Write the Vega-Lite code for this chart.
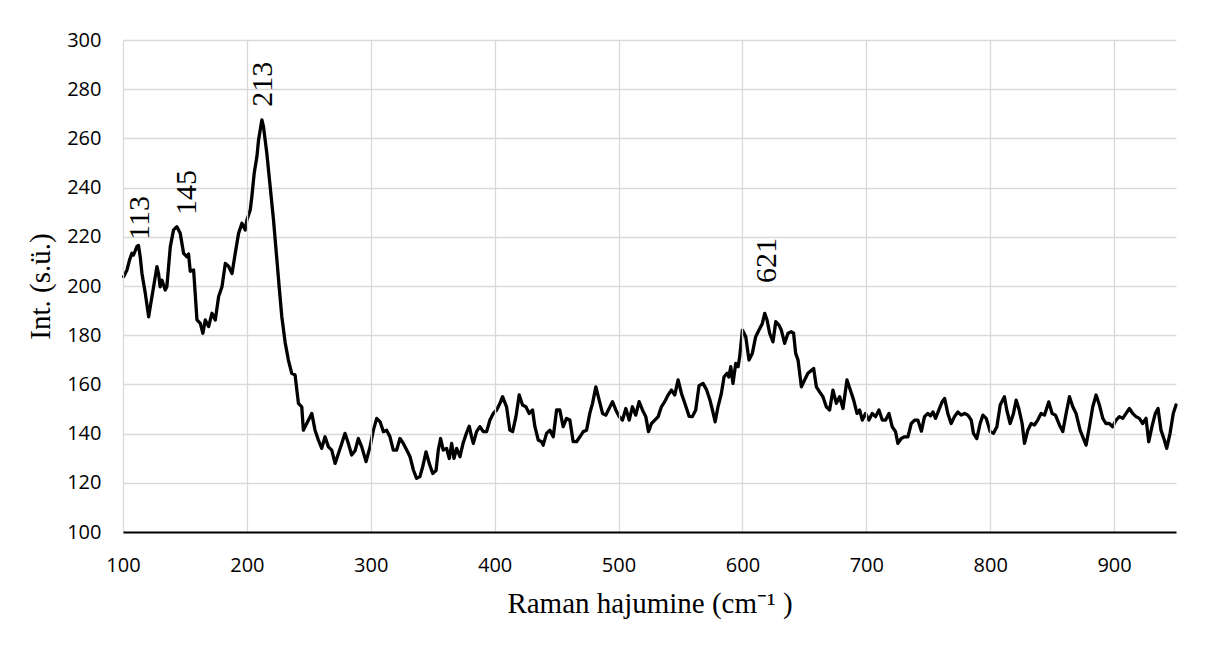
{
  "$schema": "https://vega.github.io/schema/vega-lite/v6.json",
  "width": 1053,
  "height": 492,
  "autosize": {"type": "none"},
  "padding": {"left": 123, "top": 40, "right": 36, "bottom": 114},
  "background": "white",
  "config": {
    "view": {"stroke": null},
    "axis": {
      "grid": true,
      "gridColor": "#d9d9d9",
      "gridWidth": 1.3,
      "ticks": false,
      "labelFlush": false,
      "labelOverlap": false,
      "labelFont": "Open Sans",
      "labelFontSize": 20,
      "labelColor": "#000000",
      "titleFont": "Liberation Serif",
      "titleFontSize": 29,
      "titleFontWeight": "normal",
      "titleColor": "#000000"
    }
  },
  "datasets": {
    "spectrum": [
      {"x":100.5,"y":203.8},{"x":103.2,"y":206.5},{"x":105.3,"y":210.6},{"x":107.2,"y":213.3},{"x":108.5,"y":212.6},
      {"x":111.2,"y":216},{"x":112.5,"y":216.5},{"x":113.9,"y":211.9},{"x":115.3,"y":205.1},{"x":118,"y":197},
      {"x":120.7,"y":187.5},{"x":122,"y":191.6},{"x":124.7,"y":199.7},{"x":127.4,"y":207.9},{"x":128.7,"y":205},
      {"x":130,"y":199.7},{"x":131.4,"y":202.4},{"x":134.1,"y":198.4},{"x":135.4,"y":199.7},{"x":136.8,"y":207.9},
      {"x":138.2,"y":216},{"x":140.8,"y":222.8},{"x":143.5,"y":224.1},{"x":146.2,"y":221.4},{"x":148.9,"y":213.3},
      {"x":151.6,"y":211.9},{"x":152.9,"y":213},{"x":154.3,"y":206},{"x":157,"y":206.5},{"x":159.7,"y":186.2},
      {"x":162.4,"y":184.8},{"x":164.5,"y":180.8},{"x":166.4,"y":186.2},{"x":169.1,"y":183.5},{"x":171.8,"y":188.9},
      {"x":174.5,"y":186.2},{"x":177.2,"y":195.7},{"x":179.9,"y":199.7},{"x":182.6,"y":209.2},{"x":185.3,"y":207.9},
      {"x":188,"y":205.1},{"x":190.6,"y":213.3},{"x":193.3,"y":221.4},{"x":196,"y":225.5},{"x":198.7,"y":222.8},
      {"x":200,"y":226.8},{"x":202.7,"y":230.9},{"x":204,"y":236.3},{"x":205.9,"y":245.8},{"x":208.1,"y":252.6},
      {"x":209.4,"y":259.3},{"x":212.1,"y":267.5},{"x":213.4,"y":264.8},{"x":216.1,"y":253.9},{"x":218.8,"y":240.4},
      {"x":221.5,"y":226.8},{"x":224,"y":212},{"x":226,"y":200},{"x":228.2,"y":187.5},{"x":230.9,"y":177},
      {"x":233.5,"y":169.9},{"x":236.2,"y":164.5},{"x":238.9,"y":163.8},{"x":241.6,"y":152.3},{"x":244.3,"y":150.9},
      {"x":245.6,"y":141.4},{"x":248.3,"y":144.1},{"x":252.4,"y":148.2},{"x":255,"y":141.4},{"x":257.7,"y":137.4},
      {"x":260.4,"y":134},{"x":263.1,"y":138.7},{"x":265.8,"y":134.6},{"x":268.5,"y":133.3},{"x":271.2,"y":127.9},
      {"x":273.9,"y":131.9},{"x":276.6,"y":136},{"x":279.2,"y":140.1},{"x":281.9,"y":136},{"x":284.6,"y":131.3},
      {"x":287.3,"y":133},{"x":290,"y":138},{"x":292.7,"y":134.6},{"x":296.2,"y":128.6},{"x":299.4,"y":134.6},
      {"x":302.1,"y":141.4},{"x":304.8,"y":146.2},{"x":307.5,"y":144.8},{"x":310.2,"y":140.8},{"x":312.8,"y":141.4},
      {"x":315.5,"y":138.7},{"x":318.2,"y":133.3},{"x":320.9,"y":133.3},{"x":323.6,"y":138},{"x":326.3,"y":136},
      {"x":329,"y":133.3},{"x":331.7,"y":130.6},{"x":334.4,"y":125.2},{"x":337,"y":121.8},{"x":339.7,"y":122.5},
      {"x":341.9,"y":126.5},{"x":344.6,"y":132.6},{"x":347.2,"y":127.9},{"x":350,"y":123.8},{"x":352.7,"y":125},
      {"x":354.5,"y":133.3},{"x":356.4,"y":138},{"x":358.5,"y":133.3},{"x":361.2,"y":134},{"x":363.4,"y":129.9},
      {"x":365.3,"y":136},{"x":367.2,"y":129.9},{"x":369.3,"y":134},{"x":372,"y":130.6},{"x":374.7,"y":136.4},
      {"x":377.4,"y":140.4},{"x":379.5,"y":143},{"x":381.4,"y":138.7},{"x":382.8,"y":136},{"x":385.4,"y":140.8},
      {"x":388.1,"y":142.8},{"x":390.8,"y":140.8},{"x":393.5,"y":140.8},{"x":396.2,"y":145.5},{"x":398.9,"y":148.2},
      {"x":401.6,"y":149.6},{"x":404.3,"y":152.3},{"x":406.4,"y":155},{"x":409.6,"y":150.9},{"x":412.3,"y":141.4},
      {"x":414.5,"y":140.8},{"x":417.2,"y":146.9},{"x":419.8,"y":155.7},{"x":422.5,"y":151.6},{"x":425.2,"y":150.9},
      {"x":427.9,"y":148.2},{"x":430.6,"y":149.6},{"x":432.5,"y":142.8},{"x":435.2,"y":137.4},{"x":437.9,"y":136.7},
      {"x":439.2,"y":135.3},{"x":441.9,"y":140.1},{"x":444.6,"y":141.4},{"x":447.3,"y":138.7},{"x":450,"y":149.6},
      {"x":452.6,"y":149.6},{"x":455.3,"y":142.8},{"x":458,"y":146.2},{"x":460.7,"y":145.5},{"x":463.4,"y":136.7},
      {"x":466.1,"y":136.7},{"x":468.8,"y":138.7},{"x":471.5,"y":140.8},{"x":474.2,"y":141.4},{"x":476.8,"y":148.2},
      {"x":479,"y":152.3},{"x":481.7,"y":159},{"x":484.4,"y":153.6},{"x":487.1,"y":148.2},{"x":489.7,"y":147.5},
      {"x":492.4,"y":150.2},{"x":495.1,"y":153},{"x":497.8,"y":149.6},{"x":500.5,"y":146.9},{"x":503.2,"y":145.5},
      {"x":505.9,"y":150.2},{"x":508.6,"y":145.5},{"x":511.2,"y":150.9},{"x":513.9,"y":147.5},{"x":516.6,"y":153},
      {"x":519.3,"y":149.6},{"x":522,"y":146.9},{"x":524.2,"y":140.8},{"x":526.6,"y":144.1},{"x":529.3,"y":145.5},
      {"x":532,"y":146.9},{"x":534.6,"y":150.9},{"x":537.3,"y":153},{"x":540,"y":155.7},{"x":542.7,"y":157.7},
      {"x":545.4,"y":155.7},{"x":548.1,"y":161.8},{"x":550.8,"y":156.3},{"x":553.5,"y":152.3},{"x":557,"y":147},
      {"x":559.6,"y":146.9},{"x":562.3,"y":149.6},{"x":565,"y":159.5},{"x":568.2,"y":160.4},{"x":570.9,"y":158},
      {"x":573.6,"y":154},{"x":575.8,"y":149.6},{"x":578,"y":144.8},{"x":580.3,"y":150.9},{"x":583,"y":156.3},
      {"x":585.2,"y":163.1},{"x":587.6,"y":164.5},{"x":589,"y":163},{"x":590.6,"y":167.2},{"x":592.4,"y":160.4},
      {"x":594.6,"y":168.5},{"x":596.5,"y":167.2},{"x":597.8,"y":171.2},{"x":600,"y":182.1},{"x":602.7,"y":179.4},
      {"x":605.3,"y":169.9},{"x":608,"y":172.6},{"x":610.7,"y":179.4},{"x":613.4,"y":182.1},{"x":616.1,"y":184.8},
      {"x":618,"y":188.9},{"x":619.9,"y":186.2},{"x":622,"y":180.8},{"x":624.7,"y":177.3},{"x":626.9,"y":185.5},
      {"x":629.5,"y":184.1},{"x":631.4,"y":182.1},{"x":634.1,"y":176.7},{"x":636.8,"y":180.8},{"x":639.5,"y":181.4},
      {"x":641.3,"y":180.8},{"x":643,"y":172.6},{"x":644.9,"y":169.9},{"x":647.6,"y":159},{"x":650.2,"y":161.8},
      {"x":652.9,"y":164.5},{"x":657.5,"y":166.5},{"x":659.7,"y":159},{"x":662.3,"y":157},{"x":665,"y":155},
      {"x":667.7,"y":150.9},{"x":670.4,"y":149.6},{"x":673.1,"y":157.7},{"x":675.8,"y":152.3},{"x":678.5,"y":155},
      {"x":681.2,"y":150.2},{"x":684.4,"y":161.8},{"x":687.1,"y":157.7},{"x":689.8,"y":153.6},{"x":692.5,"y":148.2},
      {"x":694.6,"y":149.6},{"x":696.8,"y":145.5},{"x":699.4,"y":148.2},{"x":702.1,"y":145.5},{"x":704.8,"y":148.2},
      {"x":707.5,"y":146.9},{"x":710.2,"y":149.6},{"x":712.9,"y":145.5},{"x":715.6,"y":145.5},{"x":718.3,"y":148.2},
      {"x":720.9,"y":142.8},{"x":723.6,"y":140.8},{"x":725.5,"y":136},{"x":728.2,"y":138},{"x":730.9,"y":138.7},
      {"x":733.6,"y":138.7},{"x":736.3,"y":144.1},{"x":739,"y":145.5},{"x":741.6,"y":145.5},{"x":744.5,"y":141},
      {"x":747,"y":146.9},{"x":749.7,"y":148.2},{"x":751.8,"y":147.2},{"x":753.8,"y":148.8},{"x":755.9,"y":146.2},
      {"x":758.6,"y":149.6},{"x":761.3,"y":153},{"x":763.2,"y":154.3},{"x":765.8,"y":148.2},{"x":768.5,"y":144.1},
      {"x":771.2,"y":146.9},{"x":773.9,"y":148.8},{"x":776.6,"y":147.5},{"x":779.3,"y":148.2},{"x":782,"y":147.5},
      {"x":784.7,"y":145.5},{"x":786.5,"y":140.1},{"x":789.2,"y":138},{"x":791.9,"y":144.1},{"x":794.1,"y":147.5},
      {"x":796.8,"y":146.2},{"x":800,"y":140.8},{"x":802.7,"y":140.1},{"x":805.4,"y":142.8},{"x":808.1,"y":151.6},
      {"x":811.5,"y":155},{"x":813.4,"y":149.6},{"x":816.1,"y":144.1},{"x":818.8,"y":148.2},{"x":821,"y":153.6},
      {"x":823.1,"y":150.2},{"x":825.8,"y":144.1},{"x":827.7,"y":136},{"x":830.4,"y":141.4},{"x":833.1,"y":144.1},
      {"x":835.7,"y":143.5},{"x":838.4,"y":145.5},{"x":841.1,"y":148.2},{"x":843.8,"y":147.5},{"x":847.3,"y":152.9},
      {"x":850,"y":148.2},{"x":852.7,"y":147.5},{"x":855.9,"y":143.5},{"x":858.6,"y":140.8},{"x":861.3,"y":148.2},
      {"x":864,"y":155},{"x":866.7,"y":150.9},{"x":869.3,"y":148.2},{"x":872.6,"y":141.4},{"x":875.3,"y":138},
      {"x":877.4,"y":135.3},{"x":880.1,"y":142.8},{"x":882.8,"y":150.9},{"x":885.5,"y":155.7},{"x":888.2,"y":151.6},
      {"x":890.9,"y":146.2},{"x":893.5,"y":144.1},{"x":896.2,"y":144.1},{"x":898.9,"y":142.8},{"x":901.6,"y":145.5},
      {"x":904.3,"y":146.9},{"x":907,"y":146.2},{"x":909.7,"y":148.2},{"x":912.4,"y":150.2},{"x":915,"y":148.2},
      {"x":917.7,"y":146.9},{"x":920.4,"y":146.2},{"x":923.1,"y":144.1},{"x":925.8,"y":146.2},{"x":928,"y":136.7},
      {"x":930.6,"y":142.8},{"x":933.3,"y":148.2},{"x":935.5,"y":150.2},{"x":937.9,"y":141.4},{"x":940.6,"y":137.4},
      {"x":942.5,"y":134},{"x":945.2,"y":140.1},{"x":947.8,"y":148.2},{"x":950,"y":151.6}
    ],
    "peaks": [
      {"label":"113","x":114,"y":218.7},
      {"label":"145","x":152,"y":228.9},
      {"label":"213","x":213.4,"y":272.9},
      {"label":"621","x":619.6,"y":201.2}
    ]
  },
  "layer": [
    {
      "data": {"name": "spectrum"},
      "mark": {"type": "line", "color": "#000000", "strokeWidth": 3.3, "strokeJoin": "round", "strokeCap": "round"},
      "encoding": {
        "x": {
          "field": "x", "type": "quantitative",
          "scale": {"domain": [100, 950], "nice": false, "zero": false},
          "axis": {
            "values": [100, 200, 300, 400, 500, 600, 700, 800, 900],
            "title": "Raman hajumine (cm⁻¹ )",
            "domainColor": "#000000",
            "domainWidth": 2,
            "labelPadding": 23,
            "titlePadding": 14,
            "zindex": 1
          }
        },
        "y": {
          "field": "y", "type": "quantitative",
          "scale": {"domain": [100, 300], "nice": false, "zero": false},
          "axis": {
            "values": [100, 120, 140, 160, 180, 200, 220, 240, 260, 280, 300],
            "title": "Int. (s.ü.)",
            "domain": false,
            "labelPadding": 22,
            "titlePadding": 11
          }
        }
      }
    },
    {
      "data": {"name": "peaks"},
      "mark": {"type": "text", "angle": 270, "align": "left", "baseline": "middle", "font": "Liberation Serif", "fontSize": 30, "color": "#000000"},
      "encoding": {
        "x": {"field": "x", "type": "quantitative"},
        "y": {"field": "y", "type": "quantitative"},
        "text": {"field": "label"}
      }
    }
  ]
}
